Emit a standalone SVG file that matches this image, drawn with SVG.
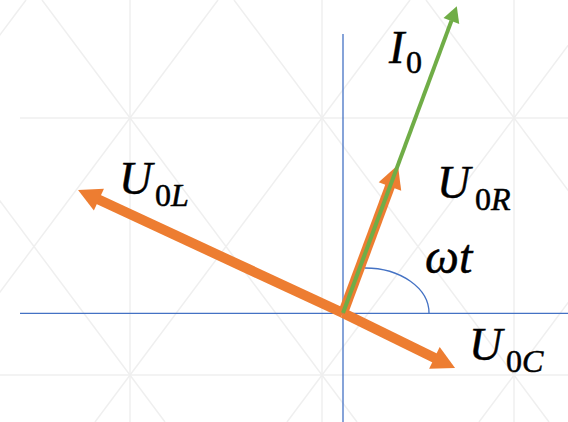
<svg xmlns="http://www.w3.org/2000/svg" width="568" height="422" viewBox="0 0 568 422">
<style>
.grid{stroke:#efefef;stroke-width:1.5;fill:none}
.axis{stroke:#4472c4;stroke-width:1.3;fill:none}
.orange{stroke:#ed7d31;stroke-width:10;fill:none}
.green{stroke:#70ad47;stroke-width:4;fill:none}
.lbl{font-family:"Liberation Serif","Times New Roman",serif;font-style:italic;fill:#000;stroke:#000;stroke-width:0.5}
.main{font-size:46px}
.sub{font-size:32px}
.up{font-style:normal}
</style>
<defs>
<marker id="headO" markerWidth="2.4" markerHeight="2.4" refX="0.1" refY="1.2" orient="auto" markerUnits="strokeWidth" overflow="visible">
<path d="M0,0 L2.3,1.2 L0,2.4 z" fill="#ed7d31"/>
</marker>
<marker id="headG" markerWidth="4.2" markerHeight="4.2" refX="0.1" refY="2.1" orient="auto" markerUnits="strokeWidth" overflow="visible">
<path d="M0,0 L3.9,2.1 L0,4.2 z" fill="#70ad47"/>
</marker>
</defs>
<rect width="568" height="422" fill="#ffffff"/>
<g id="grid">
<line class="grid" x1="20" y1="118" x2="568" y2="118"/>
<line class="grid" x1="0" y1="375" x2="568" y2="375"/>
<line class="grid" x1="130" y1="0" x2="130" y2="422"/>
<line class="grid" x1="322" y1="0" x2="322" y2="422"/>
<line class="grid" x1="514" y1="0" x2="514" y2="422"/>
<line class="grid" x1="-150" y1="0" x2="165" y2="422"/>
<line class="grid" x1="42" y1="0" x2="357" y2="422"/>
<line class="grid" x1="234" y1="0" x2="549" y2="422"/>
<line class="grid" x1="426" y1="0" x2="741" y2="422"/>
<line class="grid" x1="26" y1="0" x2="-289" y2="422"/>
<line class="grid" x1="218" y1="0" x2="-97" y2="422"/>
<line class="grid" x1="410" y1="0" x2="95" y2="422"/>
<line class="grid" x1="602" y1="0" x2="287" y2="422"/>
<line class="grid" x1="794" y1="0" x2="479" y2="422"/>
</g>
<g id="axes">
<line class="axis" x1="20" y1="313.3" x2="568" y2="313.3"/>
<line class="axis" x1="343" y1="34" x2="343" y2="422"/>
<path id="angle-arc" class="axis" d="M365,268 A64,45 0 0 1 429,313.3"/>
</g>
<g id="connectors">
<line id="U0L" class="orange" x1="343" y1="313" x2="98" y2="199.3" marker-end="url(#headO)"/>
<line id="U0C" class="orange" x1="343" y1="313" x2="435.3" y2="358.3" marker-end="url(#headO)"/>
<line id="U0R" class="orange" x1="343" y1="313" x2="390.3" y2="185.6" marker-end="url(#headO)"/>
<line id="I0" class="green" x1="343" y1="313" x2="451.5" y2="20.6" marker-end="url(#headG)"/>
</g>
<g id="label-I0">
<text class="lbl main" x="389" y="63">I</text>
<text class="lbl sub up" x="406" y="73">0</text>
</g>
<g id="label-U0R">
<text class="lbl main" x="437" y="198">U</text>
<text class="lbl sub" x="475" y="210"><tspan class="up">0</tspan>R</text>
</g>
<g id="label-U0L">
<text class="lbl main" x="119" y="194">U</text>
<text class="lbl sub" x="155" y="206"><tspan class="up">0</tspan>L</text>
</g>
<g id="label-wt">
<text class="lbl" x="425" y="273" style="font-size:48px">ωt</text>
</g>
<g id="label-U0C">
<text class="lbl main" x="469" y="360">U</text>
<text class="lbl sub" x="506" y="372"><tspan class="up">0</tspan>C</text>
</g>
</svg>
